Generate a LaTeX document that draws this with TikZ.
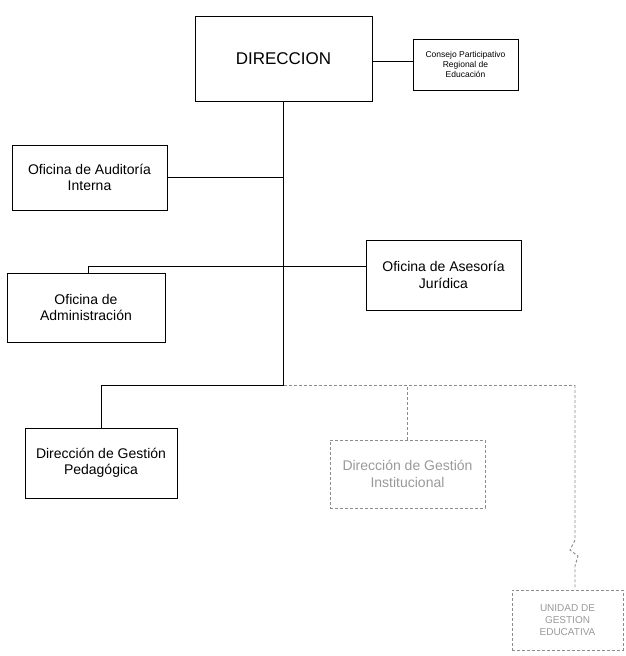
\documentclass[tikz,border=0pt]{standalone}
\usepackage{fontspec}
\setmainfont{Liberation Sans}
\usepackage{tikz}
\usetikzlibrary{arrows}

\begin{document}
\begin{tikzpicture}[x=1pt, y=-1pt]

\tikzset{unit/.style = {shape=rectangle, draw, line width=0.9pt, inner sep=0pt, align=center, font=\fontsize{14}{16.5}\selectfont}}
\tikzset{faint/.style = {unit, draw=black!45, densely dashed, text=black!40}}
\tikzset{link/.style = {-, line width=0.9pt}}
\useasboundingbox (0,0) rectangle (626,656);
% units
\node[unit, minimum width=177pt, minimum height=85pt, font=\fontsize{17}{20}\selectfont] (dir) at (283.5,58.5) {DIRECCION};
\node[unit, minimum width=105pt, minimum height=51pt, font=\fontsize{8.5}{10}\selectfont] (consejo) at (465.5,64.5) {Consejo Participativo\\Regional de\\Educación};
\node[unit, minimum width=155pt, minimum height=65pt] (audit) at (89.5,177.5) {Oficina de Auditoría\\Interna};
\node[unit, minimum width=155pt, minimum height=70pt] (asesor) at (443.5,275) {Oficina de Asesoría\\Jurídica};
\node[unit, minimum width=158pt, minimum height=69pt] (admin) at (86,307.5) {Oficina de\\Administración};
\node[unit, minimum width=152pt, minimum height=70pt] (pedag) at (101,463) {Dirección de Gestión\\Pedagógica};
\node[faint, minimum width=155pt, minimum height=68pt] (instit) at (407.5,474) {Dirección de Gestión\\Institucional};
\node[faint, minimum width=111pt, minimum height=60pt, font=\fontsize{10}{12}\selectfont] (unidad) at (567.5,620) {UNIDAD DE\\GESTION\\EDUCATIVA};
% junctions
\coordinate (bus) at (dir.south |- 0,385);
\coordinate (mid) at (88,266);
\coordinate (right) at (575,385);
%edges
\begin{scope}[every path/.style={link}]
       \draw (dir.east |- 0,61) -- (consejo.west |- 0,61);
       \draw (dir.south) -- (bus);
       \draw (audit.east) -- (audit.east -| dir.south);
       \draw (admin.north -| mid) -- (mid) -- (mid -| asesor.west);
       \draw (pedag.north) -- (pedag.north |- bus) -- (bus);
\end{scope}
\begin{scope}[every path/.style={link, draw=black!45, densely dashed}]
       \draw (bus) -- (right);
       \draw (instit.north) -- (instit.north |- bus);
       \draw (right) -- (575,540) -- (570,550) -- (578,556) -- (575,566) -- (unidad.north -| right);
\end{scope}

\end{tikzpicture}
\end{document}
